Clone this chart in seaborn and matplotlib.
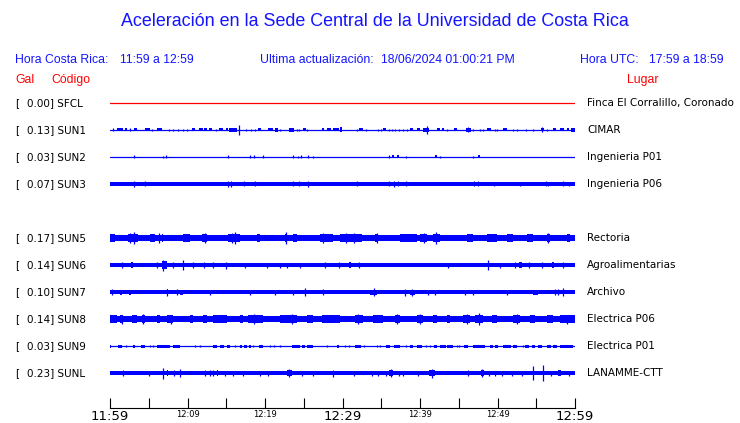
import matplotlib
matplotlib.use("Agg")
import matplotlib.pyplot as plt
import matplotlib.transforms as mtransforms
import seaborn as sns
import pandas as pd

# ---------------- data ----------------
title = "Aceleración en la Sede Central de la Universidad de Costa Rica"
hora_cr = "11:59 a 12:59"
hora_utc = "17:59 a 18:59"
ultima = "18/06/2024 01:00:21 PM"

# station slots (None = empty row)
station_slots = ["SFCL", "SUN1", "SUN2", "SUN3", None, "SUN5", "SUN6", "SUN7", "SUN8", "SUN9", "SUNL"]
peak_gal = {"SFCL": 0.00, "SUN1": 0.13, "SUN2": 0.03, "SUN3": 0.07, "SUN5": 0.17,
            "SUN6": 0.14, "SUN7": 0.10, "SUN8": 0.14, "SUN9": 0.03, "SUNL": 0.23}
places = {"SFCL": "Finca El Corralillo, Coronado", "SUN1": "CIMAR", "SUN2": "Ingenieria P01",
          "SUN3": "Ingenieria P06", "SUN5": "Rectoria", "SUN6": "Agroalimentarias",
          "SUN7": "Archivo", "SUN8": "Electrica P06", "SUN9": "Electrica P01", "SUNL": "LANAMME-CTT"}

# background amplitude of each trace (trace units, 27 units = row spacing)
base_amp = {"SFCL": 0.0, "SUN1": 0.0, "SUN2": 0.0, "SUN3": 1.7, "SUN5": 3.0,
            "SUN6": 2.0, "SUN7": 1.8, "SUN8": 3.0, "SUN9": 0.0, "SUNL": 2.0}

# bursts: (start minute, end minute, half amplitude)
bursts_SUN1 = [(0.43,0.43,1.5),(0.86,1.64,1.5),(1.94,2.23,1.5),(2.58,2.58,1.5),(3.10,3.44,1.5),(4.5,5.2,1.5),
    (5.46,5.46,1),(6.1,6.67,1.5),(7.65,7.65,1),(8.17,8.17,1),(8.81,8.81,1),(9.38,9.38,1),(9.9,9.9,1),
    (10.54,10.97,1.5),(11.45,11.96,1.5),(12.17,12.55,1.5),(12.77,13.12,1.5),(13.64,13.64,1),(14.06,14.62,1.5),
    (14.97,15.26,1.5),(15.39,16.43,1.8),(16.68,16.68,5),(17.55,17.55,1),(18.15,18.15,1),(18.75,18.75,1),
    (19.14,19.48,1.5),(20.35,21.0,1.5),(21.29,21.72,1.8),(21.94,21.94,1),(23.14,23.74,1.8),(24.09,24.09,1),
    (24.43,24.43,1),(24.94,25.29,1.5),(25.46,25.46,1),(27.32,27.61,1.5),(27.96,28.48,1.5),(28.81,29.59,1.5),
    (29.68,29.9,2.5),(31.83,31.83,1),(32.17,32.6,1.5),(33.03,33.03,1),(34.62,34.62,1),(34.93,34.93,1),
    (35.27,35.61,1.5),(36.04,36.04,1),(36.35,36.35,1),(36.77,36.77,1),(37.33,37.33,1),(37.85,37.85,1),
    (38.28,38.28,1),(38.71,39.06,1.5),(39.57,40.0,1.5),(40.35,41.2,1.8),(40.94,40.94,4),(42.23,42.58,1.5),
    (42.8,43.1,1.5),(43.52,43.52,1),(44.39,44.73,1.5),(45.94,46.54,1.8),(46.2,46.2,2.5),(46.88,46.88,1),
    (47.74,47.74,1),(48.09,48.09,1),(48.6,49.12,1.5),(49.68,49.68,1),(49.98,49.98,1),(50.67,51.18,1.5),
    (52.04,52.04,1),(52.47,52.47,1),(53.68,53.68,1),(54.62,54.62,1),(55.66,56.0,1.5),(55.8,55.8,2.5),
    (56.35,56.35,1),(57.2,57.55,1.5),(58.06,58.58,1.5),(58.93,59.27,1.5),(59.44,60.0,1.8)]
bursts_SUN2 = [(3.14,3.14,1.5),(6.88,6.88,1),(7.23,7.23,1.5),(15.26,15.26,1.5),(18.1,18.1,1.5),(18.62,18.62,1.5),
    (19.78,19.78,1.5),(23.57,23.57,1.5),(24.26,24.26,1),(24.68,24.68,1.5),(25.59,25.59,1.5),(26.23,26.23,1),
    (36.04,36.04,1.5),(36.45,36.7,1.5),(37.05,37.35,1.5),(38.15,38.15,1),(41.9,42.2,1.5),(42.58,42.58,1),
    (46.88,46.88,1),(47.45,47.8,1.5)]
bursts_SUN3 = [(3.14,3.14,3),(4.52,4.52,2.5),(15.26,15.26,3),(15.61,15.61,3),(17.29,17.29,2.5),(18.75,18.75,2.5),
    (23.57,23.57,2.5),(24.43,24.43,2.5),(25.59,25.59,3),(31.91,31.91,2.5),(36.04,36.04,2.5),(36.69,36.69,3),
    (37.2,37.2,2.5),(38.19,38.19,2.5),(47.01,47.01,2.5),(47.52,47.52,2.5),(49.59,49.59,2),(52.9,52.9,2),
    (56.26,56.26,2.5),(56.55,56.55,2),(58.41,58.41,2.5),(59.27,59.27,2)]
bursts_SUN5 = [(0.0,0.65,3.6),(2.37,3.65,3.8),(3.14,3.14,6),(2.6,2.6,5),(5.16,5.81,3.6),(6.67,6.88,4),(6.3,6.3,5),
    (9.46,10.32,3.6),(11.83,12.47,3.8),(12.2,12.2,5),(15.26,16.77,4),(16.13,16.13,6),(15.7,15.7,5),
    (18.93,19.35,3.6),(22.58,22.8,4),(22.7,22.7,6),(23.65,24.09,3.8),(27.1,28.82,3.8),(27.5,27.5,5),
    (29.68,32.47,3.8),(31.5,31.5,5.5),(30.4,30.4,5),(34.19,34.62,4),(34.4,34.4,5),(37.42,39.57,3.6),
    (40.0,40.86,4),(40.5,40.5,5.5),(41.72,42.58,4),(42.1,42.1,6),(46.02,46.88,3.6),(48.6,49.89,3.6),
    (51.18,52.04,3.6),(53.76,54.62,3.8),(56.35,56.77,4),(56.5,56.5,5.5),(58.93,59.35,3.6)]
bursts_SUN6 = [(1.51,1.51,3),(2.67,3.0,3),(6.11,6.11,3),(6.67,7.31,3.5),(6.88,6.88,5.5),(8.09,8.09,3),
    (9.46,9.46,5),(10.67,10.67,3),(12.17,12.17,3),(13.33,13.33,3),(14.97,14.97,3.5),(17.42,17.42,2.5),
    (20.22,20.22,2.5),(21.94,21.94,2.5),(22.8,22.8,2.5),(24.52,24.52,2.5),(27.74,27.74,3),(29.59,29.59,3),
    (30.8,31.1,3),(32.17,32.17,3),(43.65,43.65,2.5),(48.73,48.73,5),(50.32,50.32,2.5),(52.26,52.26,3),
    (52.8,53.1,3),(54.11,54.11,3),(55.78,55.78,3),(57.0,57.3,3),(58.41,58.41,3)]
bursts_SUN7 = [(0.22,0.22,3),(1.29,1.51,2.5),(2.49,2.67,2.5),(7.31,7.53,3),(7.4,7.4,3.5),(8.69,8.69,3),(9.03,9.38,2.5),
    (12.9,12.9,2.5),(18.06,18.06,2.5),(21.29,21.29,2.5),(23.65,23.65,2.5),(25.16,25.16,4),(27.44,27.44,3),
    (30.97,31.83,2.3),(33.55,34.41,2.5),(34.0,34.0,4),(38.06,38.06,3.5),(38.71,39.35,2.5),(39.0,39.0,3.5),
    (41.07,41.07,2.5),(41.94,41.94,2.5),(45.81,45.81,2.5),(46.88,46.88,2.5),(51.18,51.18,2.5),(54.62,55.27,2.5),
    (57.42,57.42,3),(57.85,57.85,3),(58.41,58.41,4)]
bursts_SUN8 = [(0.0,0.86,3.6),(1.29,1.72,3.8),(1.5,1.5,4.5),(2.8,3.44,3.6),(4.09,4.52,3.8),(4.3,4.3,5),
    (6.02,6.45,3.6),(7.31,8.17,3.8),(7.9,7.9,4.5),(10.32,10.75,3.6),(12.04,12.47,3.6),(13.33,15.05,3.6),
    (16.77,17.2,3.6),(17.85,19.78,3.8),(18.6,18.6,5),(21.94,24.09,3.6),(23.5,23.5,5),(25.37,26.23,3.6),
    (27.32,29.68,3.8),(31.61,32.69,3.8),(32.0,32.0,5),(33.98,35.27,3.6),(36.77,37.42,3.8),(37.0,37.0,5),
    (39.57,40.43,3.8),(40.0,40.0,5),(41.72,42.15,3.6),(43.44,43.87,3.6),(45.59,46.45,3.8),(46.0,46.0,5),
    (47.1,48.17,4.2),(47.6,47.6,6),(49.25,49.89,3.6),(52.04,52.9,3.8),(52.5,52.5,5),(54.19,54.84,3.6),
    (56.35,57.2,3.6),(58.06,60.0,3.8),(59.0,59.0,4.5)]
bursts_SUN9 = [(0.0,0.1,1.5),(1.08,1.51,1.5),(2.06,2.06,1),(3.01,3.23,1.5),(3.96,4.52,1.5),(5.16,5.16,1),
    (5.59,5.59,1),(6.11,7.74,1.5),(8.17,9.03,1.5),(10.97,10.97,1),(11.61,11.61,1),(13.33,13.76,1.5),
    (14.19,14.71,1.5),(15.05,15.48,1.5),(16.13,16.13,1),(16.77,16.99,1.5),(17.29,17.63,1.5),(17.98,18.15,1.5),
    (18.49,18.49,1),(19.26,19.78,1.5),(20.65,20.65,1),(21.16,21.16,1),(21.94,21.94,1),(23.44,24.52,1.5),
    (24.73,25.16,1.5),(25.37,26.23,1.5),(27.96,27.96,1),(29.25,29.59,1.5),(30.32,30.32,1),(30.88,30.88,1),
    (31.61,32.35,1.5),(32.77,32.77,1),(34.49,34.49,1),(34.84,34.84,1),(35.61,36.13,1.5),(36.65,37.42,1.5),
    (38.19,38.19,1),(38.71,39.14,1.5),(39.57,40.22,1.5),(40.77,40.77,1),(41.29,41.29,1),(41.81,42.24,1.5),
    (42.58,43.35,1.5),(43.52,44.22,1.5),(44.82,44.82,1),(45.08,45.08,1),(45.68,46.24,1.5),(46.88,48.39,1.5),
    (49.03,49.46,1.5),(49.68,50.11,1.5),(50.75,51.7,1.5),(52.04,52.56,1.5),(53.25,53.25,1),(53.55,54.11,1.5),
    (54.41,54.84,1.5),(55.27,55.7,1.5),(56.35,56.86,1.5),(57.2,57.63,1.5),(58.06,59.78,1.5)]
bursts_SUNL = [(1.64,1.64,3),(5.07,5.07,2.5),(6.88,6.88,5.5),(7.31,7.53,2.8),(8.26,8.26,3),(9.03,9.03,4),
    (12.26,12.26,3),(12.9,12.9,3),(13.33,13.33,3),(13.76,13.98,2.8),(14.84,14.84,2.5),(15.91,15.91,2.5),
    (17.2,17.2,2.5),(19.35,19.35,2.5),(20.43,20.43,2.5),(22.8,23.44,3),(23.1,23.1,4),(24.73,24.73,2.5),
    (26.23,26.23,2.5),(28.82,28.82,3.5),(31.48,31.48,2.5),(33.76,33.76,2.5),(34.62,34.62,2.5),(35.61,35.61,2.5),
    (36.04,36.48,2.8),(36.3,36.3,4),(37.33,37.33,2.5),(37.85,37.85,2.5),(39.78,39.78,2.5),(41.2,41.94,2.8),
    (41.5,41.5,4.5),(46.24,46.24,3),(47.83,48.26,2.8),(48.0,48.0,4),(48.94,48.94,2.5),(49.68,49.68,2.5),
    (50.54,50.54,2.5),(51.83,51.83,2.5),(53.12,53.12,2.5),(54.62,54.62,7),(55.91,55.91,8),(56.86,56.86,2.5),
    (57.85,58.15,2.8),(59.27,59.27,2.5)]
bursts = {"SFCL": [], "SUN1": bursts_SUN1, "SUN2": bursts_SUN2, "SUN3": bursts_SUN3, "SUN5": bursts_SUN5,
          "SUN6": bursts_SUN6, "SUN7": bursts_SUN7, "SUN8": bursts_SUN8, "SUN9": bursts_SUN9, "SUNL": bursts_SUNL}

tick_minutes = list(range(0, 61, 5))
tick_labels = ["11:59", "", "12:09", "", "12:19", "", "12:29", "", "12:39", "", "12:49", "", "12:59"]
big_labels = ["11:59", "12:29", "12:59"]

# ---------------- style ----------------
sns.set_theme(style="white")
plt.rcParams["font.family"] = ["DejaVu Sans"]
BLUE = "#0000ff"
TBLUE = "#1414ff"
RED = "#ff0000"
UNIT = 27.0  # trace units per row

W, H = 740, 423
fig = plt.figure(figsize=(W / 100, H / 100), dpi=100)
ax = fig.add_axes([110 / W, (H - 408) / H, 465 / W, (408 - 90) / H])
ax.set_xlim(0, 60)
ax.set_ylim((408 - 103) / UNIT, (90 - 103) / UNIT)
ax.set_facecolor("white")

for row, st in enumerate(station_slots):
    if st is None:
        continue
    color = RED if st == "SFCL" else BLUE
    df = pd.DataFrame({"t": [0, 60], "y": [row, row]})
    sns.lineplot(data=df, x="t", y="y", ax=ax, color=color, lw=0.9, legend=False)
    b = base_amp[st] / UNIT
    if b > 0:
        ax.fill_between([0, 60], row - b, row + b, color=color, lw=0)
    for t0, t1, a in bursts[st]:
        a = a / UNIT
        if t1 > t0:
            ax.fill_between([t0, t1], row - a, row + a, color=color, lw=0)
        else:
            ax.vlines(t0, row - a, row + a, color=color, lw=0.9)

for s in ["top", "left", "right"]:
    ax.spines[s].set_visible(False)
ax.spines["bottom"].set_color("black")
ax.spines["bottom"].set_linewidth(0.8)
ax.set_yticks([])
ax.set_xlabel("")
ax.set_ylabel("")
ax.set_xticks(tick_minutes)
ax.set_xticklabels(tick_labels)
ax.tick_params(axis="x", direction="in", length=7.5, width=0.8, color="black", pad=1.5, bottom=True)
for lbl in ax.get_xticklabels():
    if lbl.get_text() in big_labels:
        lbl.set_fontsize(9.5)
    else:
        lbl.set_fontsize(6)
    lbl.set_color("black")

# station labels
trans = mtransforms.blended_transform_factory(fig.transFigure, ax.transData)
lab_font = dict(fontsize=7.45, color="black", va="center", family="DejaVu Sans")
for row, st in enumerate(station_slots):
    if st is None:
        continue
    ax.text(15 / W, row, "[", transform=trans, ha="left", **lab_font)
    ax.text(27 / W, row, f"{peak_gal[st]:.2f}] {st}", transform=trans, ha="left", **lab_font)
    ax.text(587 / W, row, places[st], transform=trans, ha="left", **lab_font)

# header
hf = "Liberation Sans"
def ftext(x, y, s, size, color, ha="left"):
    fig.text(x / W, 1 - y / H, s, fontsize=size, color=color, ha=ha, va="center", family=hf)

ftext(375, 22, title, 12.9, TBLUE, ha="center")
ftext(15, 60, "Hora Costa Rica:", 8.8, TBLUE)
ftext(120, 60, hora_cr, 8.8, TBLUE)
ftext(260, 60, "Ultima actualización:", 8.8, TBLUE)
ftext(381, 60, ultima, 8.8, TBLUE)
ftext(580, 60, "Hora UTC:", 8.8, TBLUE)
ftext(724, 60, hora_utc, 8.8, TBLUE, ha="right")
ftext(15, 80, "Gal", 8.8, RED)
ftext(51, 80, "Código", 8.8, RED)
ftext(627, 80, "Lugar", 8.8, RED)

fig.savefig("out.png", dpi=100, facecolor="white")
